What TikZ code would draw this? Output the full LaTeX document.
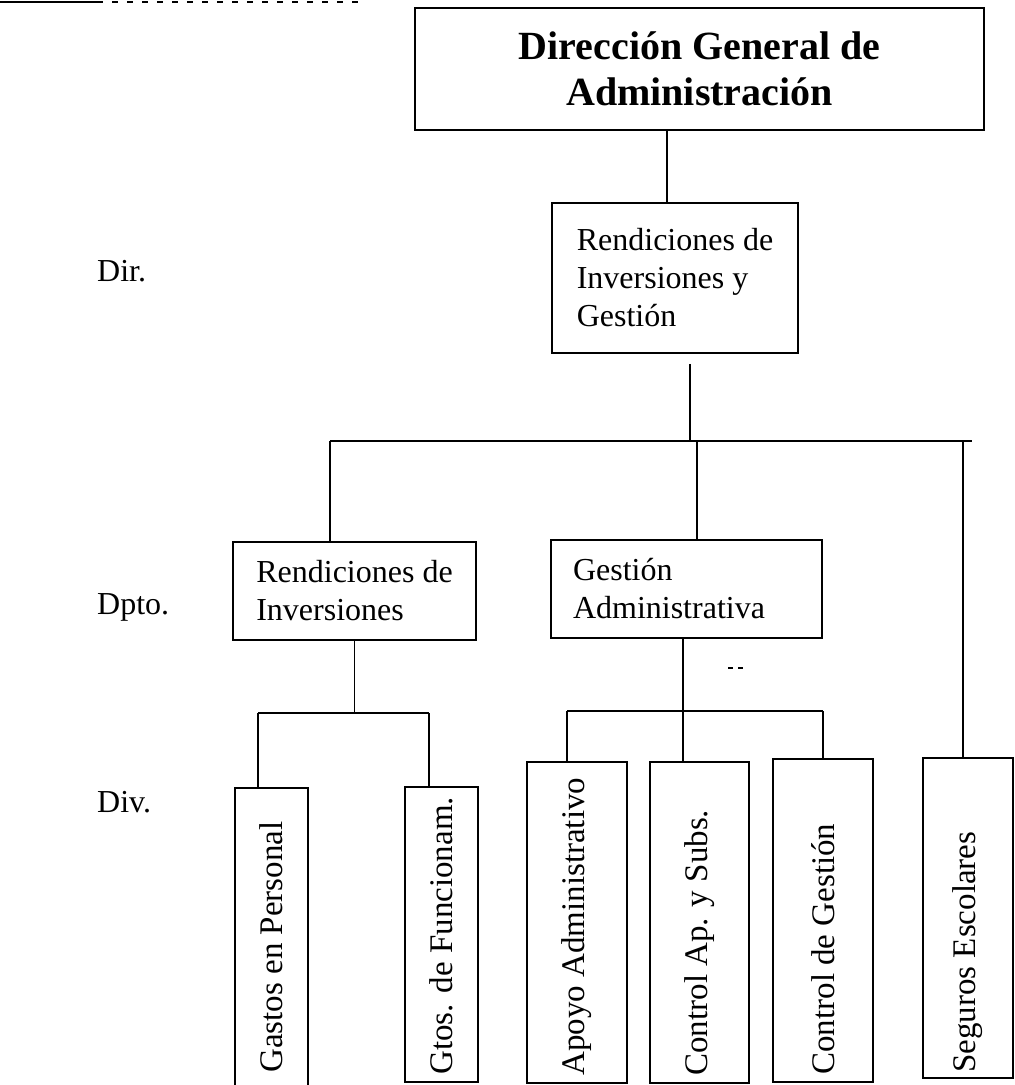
\documentclass[tikz,border=0pt]{standalone}
\usepackage{fontspec}
\setmainfont{Liberation Serif}
\usepackage{graphicx}
\usepackage{tikz}
\usetikzlibrary{positioning}

\begin{document}
\begin{tikzpicture}[x=1pt, y=-1pt]
\tikzstyle{box}=[draw=black, line width=1.7pt, inner sep=0pt, font=\fontsize{32}{38}\selectfont]
\tikzstyle{tbox}=[box, align=left, anchor=center]
\tikzstyle{vbox}=[box]
\tikzstyle{vtext}=[inner sep=0pt, font=\fontsize{33}{38}\selectfont]
\tikzstyle{lvl}=[anchor=base west, inner sep=0pt, font=\fontsize{32}{38}\selectfont]
\tikzstyle{link}=[draw=black, line width=1.5pt]

\useasboundingbox (0,0) rectangle (1015,1085);

\node[box, minimum width=569pt, minimum height=122pt, align=center, font=\bfseries\fontsize{40}{46}\selectfont] (dga) at (699.5,69) {Dirección General de\\Administración};

\node[tbox, minimum width=246pt, minimum height=150pt] (rig) at (675,278) {Rendiciones de\\Inversiones y\\Gestión};

\node[tbox, minimum width=243pt, minimum height=98pt] (ri) at (354.5,591) {Rendiciones de\\Inversiones};
\node[tbox, minimum width=271pt, minimum height=98pt, inner xsep=22pt, text width=227pt] (ga) at (686.5,589) {Gestión\\Administrativa};

\node[vbox, minimum width=73pt, minimum height=302pt] (gas) at (271.5,939) {};
\node[vbox, minimum width=73pt, minimum height=295pt] (gto) at (441.5,934.5) {};
\node[vbox, minimum width=100pt, minimum height=321pt] (apo) at (577,922.5) {};
\node[vbox, minimum width=99pt, minimum height=321pt] (cap) at (699.5,922.5) {};
\node[vbox, minimum width=100pt, minimum height=323pt] (cdg) at (823,920.5) {};
\node[vbox, minimum width=90pt, minimum height=320pt] (seg) at (968,918) {};

\node[vtext, above=18pt of gas.south] (gasT) {\rotatebox{90}{Gastos en Personal}};
\node[vtext, above=8pt of gto.south] (gtoT) {\rotatebox{90}{Gtos. de Funcionam.}};
\node[vtext, above=8pt of apo.south] (apoT) {\rotatebox{90}{Apoyo Administrativo}};
\node[vtext, above=8pt of cap.south] (capT) {\rotatebox{90}{Control Ap. y Subs.}};
\node[vtext, above=8pt of cdg.south] (cdgT) {\rotatebox{90}{Control de Gestión}};
\node[vtext, above=6pt of seg.south] (segT) {\rotatebox{90}{Seguros Escolares}};

\node[lvl] (dir) at (97,281) {Dir.};
\node[lvl] (dpto) at (97,614) {Dpto.};
\node[lvl] (div) at (97,812) {Div.};

\coordinate (busL) at (330,441);
\coordinate (busR) at (972,441);
\coordinate (busTop) at (690,441);
\coordinate (busGA) at (697,441);
\coordinate (busSeg) at (963,441);
\coordinate (subL) at (258,713);
\coordinate (subR) at (429,713);
\coordinate (gsubL) at (567,711);
\coordinate (gsubM) at (683,711);
\coordinate (gsubR) at (823,711);

\draw[link] ([xshift=-8pt]rig.north |- dga.south) -- ([xshift=-8pt]rig.north);
\draw[link] ([yshift=-10pt]rig.south -| busTop) -- (busTop);
\draw[link] (busL) -- (busR);
\draw[link] (busL) -- (busL |- ri.north);
\draw[link] (busGA) -- (busGA |- ga.north);
\draw[link] (busSeg) -- (busSeg |- seg.north);

\draw[link] (ri.south) -- (ri.south |- subL);
\draw[link] (subL) -- (subR);
\draw[link] (subL) -- (subL |- gas.north);
\draw[link] (subR) -- (subR |- gto.north);

\draw[link] (ga.south -| gsubM) -- (gsubM |- cap.north);
\draw[link] (gsubL) -- (gsubR);
\draw[link] (gsubL) -- (gsubL |- apo.north);
\draw[link] (gsubR) -- (gsubR |- cdg.north);

\draw[line width=1.2pt] (0,2) -- (97,2);
\draw[line width=1.2pt, dash pattern=on 6pt off 9pt] (97,2) -- (362,2);
\draw[line width=1.2pt, dash pattern=on 5pt off 5pt] (728,668) -- (743,668);
\end{tikzpicture}
\end{document}
